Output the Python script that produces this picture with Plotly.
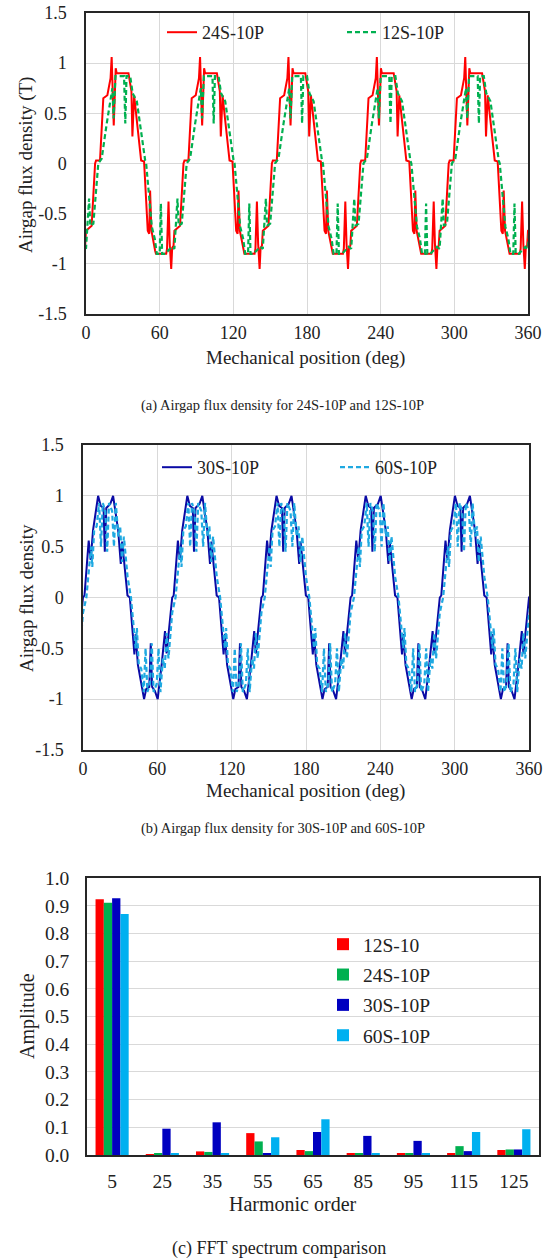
import plotly.graph_objects as go

W, H = 560, 1260
FONT = "Liberation Serif, Times New Roman, serif"

# ---------------- data: one 72-deg pole-pair period of each waveform (deg, T) ----------------
PERIOD = 72
red_24s_deg = [0, 4.6, 7.4, 8.2, 11.4, 14.1, 17.4, 20.0, 20.9, 22.6, 24.2, 25.0, 34.6, 37.0, 37.8,
               39.2, 44.9, 47.3, 50.3, 51.5, 52.2, 53.3, 56.3, 57.0, 65.3, 66.0, 67.2, 68.2, 69.4,
               70.2, 71.3]
red_24s_val = [-0.67, -0.62, 0.0, 0.03, 0.03, 0.65, 0.68, 0.85, 1.06, 0.38, 0.95, 0.9, 0.9, 0.72,
               0.27, 0.68, 0.03, 0.02, -0.67, -0.7, -0.27, -0.67, -0.87, -0.9, -0.9, -0.85, -0.38,
               -0.8, -1.05, -0.84, -0.82]

green_12s_deg = [0, 1.5, 2.5, 3.5, 6.0, 10.0, 12.8, 16.9, 19.6, 21.5, 22.5, 23.5, 24.0, 31.0, 32.0,
                 33.0, 36.0, 38.0, 41.4, 48.2, 49.0, 53.6, 56.0, 57.7, 60.0, 61.0, 62.0, 64.5, 69.9]
green_12s_val = [-0.85, -0.6, -0.35, -0.62, -0.6, 0.0, 0.05, 0.4, 0.63, 0.75, 0.45, 0.85, 0.87,
                 0.87, 0.4, 0.87, 0.87, 0.7, 0.62, 0.03, 0.0, -0.63, -0.75, -0.9, -0.9, -0.4, -0.9,
                 -0.9, -0.83]

navy_30s_deg = [0, 1.2, 4.6, 6.2, 8.1, 12.2, 14.3, 16.6, 17.6, 18.8, 22.0, 24.3, 28.4, 30.5, 31.6,
                35.9, 37.8, 41.5, 42.5, 44.3, 49.3, 51.0, 53.5, 54.7, 55.8, 58.0, 60.3, 63.5, 66.2,
                67.5, 71.5]
navy_30s_val = [0.0, 0.02, 0.56, 0.37, 0.66, 1.0, 0.9, 0.88, 0.45, 0.88, 0.92, 1.0, 0.66, 0.33,
                0.55, 0.02, 0.0, -0.56, -0.36, -0.66, -1.0, -0.9, -0.88, -0.45, -0.88, -0.92, -1.0,
                -0.66, -0.33, -0.55, -0.02]

blue_60s_deg = [0, 2.7, 5.0, 6.5, 7.5, 9.0, 11.0, 13.0, 14.5, 16.0, 18.0, 19.5, 21.0, 23.5, 25.0,
                26.5, 28.5, 30.0, 31.5, 33.0, 36.0, 38.7, 41.0, 42.5, 43.5, 45.0, 47.0, 49.0, 50.5,
                52.0, 54.0, 55.5, 57.0, 59.5, 61.0, 62.5, 64.5, 66.0, 67.5, 69.0, 71.0]
blue_60s_val = [-0.15, 0.0, 0.3, 0.5, 0.3, 0.66, 0.7, 0.93, 0.5, 0.93, 0.85, 0.45, 0.93, 0.85, 0.5,
                0.93, 0.6, 0.7, 0.35, 0.6, 0.2, 0.0, -0.3, -0.5, -0.3, -0.66, -0.7, -0.93, -0.5,
                -0.93, -0.85, -0.45, -0.93, -0.85, -0.5, -0.93, -0.6, -0.7, -0.35, -0.6, -0.3]

# ---------------- data: FFT spectrum ----------------
harmonics = ["5", "25", "35", "55", "65", "85", "95", "115", "125"]
amp_12s = [0.923, 0.003, 0.013, 0.079, 0.018, 0.007, 0.004, 0.004, 0.018]
amp_24s = [0.911, 0.007, 0.011, 0.049, 0.014, 0.005, 0.006, 0.032, 0.020]
amp_30s = [0.927, 0.095, 0.118, 0.007, 0.083, 0.069, 0.051, 0.014, 0.020]
amp_60s = [0.870, 0.007, 0.005, 0.064, 0.129, 0.007, 0.006, 0.083, 0.093]

x_ticks = [0, 60, 120, 180, 240, 300, 360]
y_ticks = [-1.5, -1, -0.5, 0, 0.5, 1, 1.5]
y_tick_text = ["-1.5", "-1", "-0.5", "0", "0.5", "1", "1.5"]
amp_ticks = [0.0, 0.1, 0.2, 0.3, 0.4, 0.5, 0.6, 0.7, 0.8, 0.9, 1.0]


def tile(degs, vals):
    xs, ys = [], []
    for k in range(-1, 6):
        xs += [d + PERIOD * k for d in degs]
        ys += list(vals)
    return xs, ys


def xdom(a, b):
    return [a / W, b / W]


def ydom(top, bottom):
    return [1 - bottom / H, 1 - top / H]


def tf(size):
    return dict(family=FONT, size=size, color="#222")


fig = go.Figure()

# chart (a)
x, y = tile(red_24s_deg, red_24s_val)
fig.add_trace(go.Scatter(x=x, y=y, mode="lines", name="24S-10P", xaxis="x", yaxis="y",
                         line=dict(color="#FF0000", width=2), legend="legend"))
x, y = tile(green_12s_deg, green_12s_val)
fig.add_trace(go.Scatter(x=x, y=y, mode="lines", name="12S-10P", xaxis="x", yaxis="y",
                         line=dict(color="#00B050", width=2.2, dash="5px,3px"), legend="legend"))
# chart (b)
x, y = tile(navy_30s_deg, navy_30s_val)
fig.add_trace(go.Scatter(x=x, y=y, mode="lines", name="30S-10P", xaxis="x2", yaxis="y2",
                         line=dict(color="#0A0AA5", width=2), legend="legend2"))
x, y = tile(blue_60s_deg, blue_60s_val)
fig.add_trace(go.Scatter(x=x, y=y, mode="lines", name="60S-10P", xaxis="x2", yaxis="y2",
                         line=dict(color="#1FA9E1", width=2.2, dash="5px,3px"), legend="legend2"))
# chart (c)
for nm, vals, col in [("12S-10", amp_12s, "#FF0000"), ("24S-10P", amp_24s, "#00B050"),
                      ("30S-10P", amp_30s, "#0000C0"), ("60S-10P", amp_60s, "#00B0F0")]:
    fig.add_trace(go.Bar(x=harmonics, y=vals, name=nm, marker=dict(color=col, line_width=0),
                         xaxis="x3", yaxis="y3", legend="legend3", legendgroup=nm))

axis_common = dict(showline=True, linecolor="#262626", linewidth=1.5, mirror=True,
                   showgrid=True, gridcolor="#D9D9D9", gridwidth=1.3, zeroline=False,
                   automargin=False, ticks="")

fig.update_layout(
    template="none",
    width=W, height=H, margin=dict(l=0, r=0, t=0, b=0, pad=0),
    paper_bgcolor="white", plot_bgcolor="white",
    font=tf(16),
    barmode="group", bargap=0.34, bargroupgap=0,
    xaxis=dict(domain=xdom(86, 528), anchor="y", range=[0, 360], tickvals=x_ticks,
               ticklabelstandoff=2, tickfont=tf(18), **axis_common),
    yaxis=dict(domain=ydom(13, 314), anchor="x", range=[-1.5, 1.5], tickvals=y_ticks,
               ticktext=y_tick_text, ticklabelstandoff=14, tickfont=tf(18), **axis_common),
    xaxis2=dict(domain=xdom(83, 529), anchor="y2", range=[0, 360], tickvals=x_ticks,
                ticklabelstandoff=2, tickfont=tf(18), **axis_common),
    yaxis2=dict(domain=ydom(445, 750), anchor="x2", range=[-1.5, 1.5], tickvals=y_ticks,
                ticktext=y_tick_text, ticklabelstandoff=14, tickfont=tf(18), **axis_common),
    xaxis3=dict(domain=xdom(87, 539), anchor="y3", type="category",
                ticklabelstandoff=8, tickfont=tf(19.5), **{**axis_common, "showgrid": False}),
    yaxis3=dict(domain=ydom(878, 1155), anchor="x3", range=[0, 1.0], tickvals=amp_ticks,
                tickformat=".1f", ticklabelstandoff=12, tickfont=tf(19.5), **axis_common),
    legend=dict(orientation="h", x=162 / W, xanchor="left", y=1 - 14 / H, yanchor="top",
                entrywidth=135, entrywidthmode="pixels", bgcolor="rgba(0,0,0,0)",
                font=tf(18)),
    legend2=dict(orientation="h", x=157 / W, xanchor="left", y=1 - 449 / H, yanchor="top",
                 entrywidth=133, entrywidthmode="pixels", bgcolor="rgba(0,0,0,0)",
                 font=tf(18)),
    legend3=dict(orientation="v", x=323 / W, xanchor="left", y=1 - 925 / H, yanchor="top",
                 traceorder="grouped", tracegroupgap=2, bgcolor="rgba(0,0,0,0)",
                 font=tf(19.5)),
)

annots = [
    dict(text="Airgap flux density (T)", x=26, y=165, textangle=-90, size=19),
    dict(text="Mechanical position (deg)", x=306, y=358, size=19),
    dict(text="(a) Airgap flux density for 24S-10P and 12S-10P", x=282, y=406, size=14.5),
    dict(text="Airgap flux density", x=26, y=598, textangle=-90, size=19),
    dict(text="Mechanical position (deg)", x=306, y=791, size=19),
    dict(text="(b) Airgap flux density for 30S-10P and 60S-10P", x=283, y=828, size=14.5),
    dict(text="Amplitude", x=27, y=1016, textangle=-90, size=20),
    dict(text="Harmonic order", x=293, y=1204, size=20),
    dict(text="(c) FFT spectrum comparison", x=279, y=1248, size=18),
]
for a in annots:
    fig.add_annotation(text=a["text"], x=a["x"] / W, y=1 - a["y"] / H, xref="paper",
                       yref="paper", showarrow=False, xanchor="center", yanchor="middle",
                       textangle=a.get("textangle", 0), font=tf(a["size"]))

fig.write_html("out.html", config={"displayModeBar": False},
               post_script="document.body.style.margin='0px';")
